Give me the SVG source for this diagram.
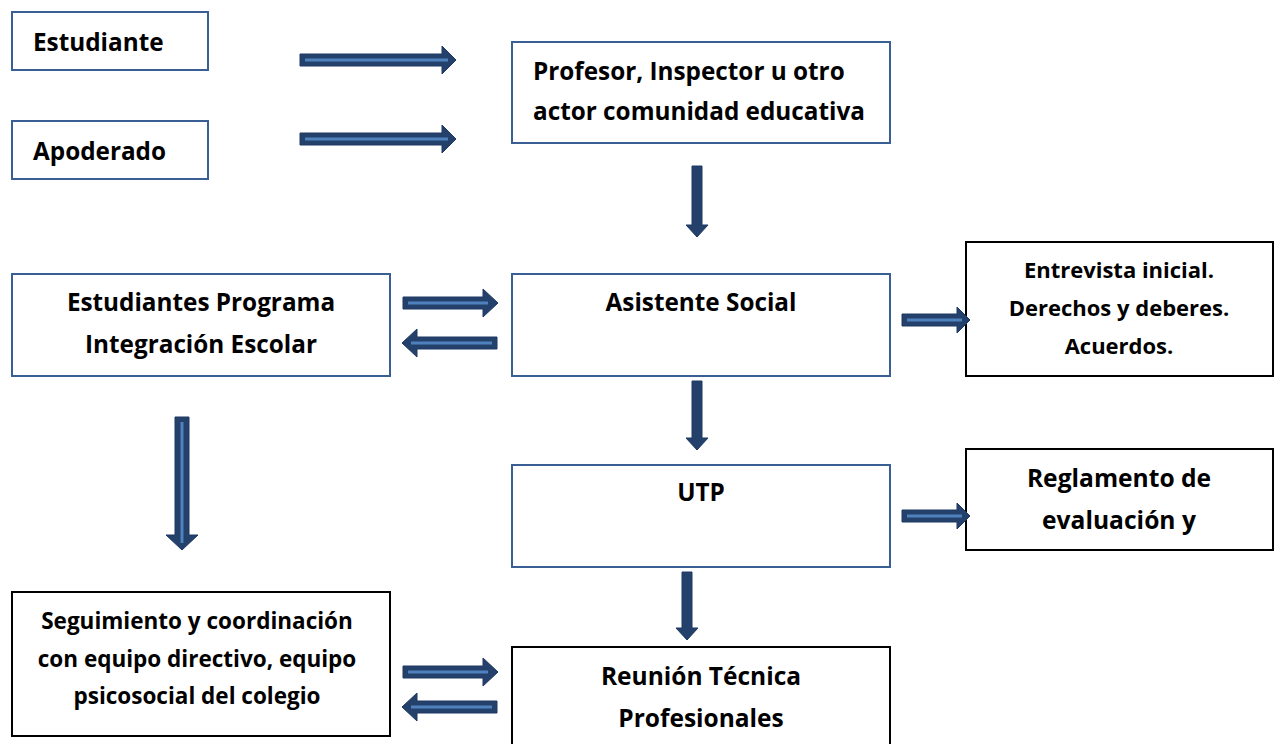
<svg xmlns="http://www.w3.org/2000/svg" width="1278" height="744" viewBox="0 0 1278 744">
<style>
.bb{fill:#fff;stroke:#3a5f95;stroke-width:2}
.kb{fill:#fff;stroke:#000;stroke-width:2}
text{font-family:"Open Sans","Liberation Sans",sans-serif;font-weight:700;fill:#000}
.c{text-anchor:middle}
.m{font-size:24.3px}
.ar{fill:#24416b;stroke:#1f3864;stroke-width:1}
.st{stroke:#4f81bd;stroke-width:3;fill:none}
</style>
<rect width="1278" height="744" fill="#fff"/>
<g id="n-estudiante"><rect class="bb" x="12" y="12" width="196" height="58"/><text class="m" x="33" y="51">Estudiante</text></g>
<g id="n-apoderado"><rect class="bb" x="12" y="121" width="196" height="58"/><text class="m" x="33" y="160">Apoderado</text></g>
<g id="n-profesor"><rect class="bb" x="512" y="42" width="378" height="101"/><text class="m" x="533" y="80">Profesor, Inspector u otro</text><text class="m" x="533" y="120">actor comunidad educativa</text></g>
<g id="n-pie"><rect class="bb" x="12" y="274" width="378" height="102"/><text class="c m" x="201" y="311">Estudiantes Programa</text><text class="c m" x="201" y="353">Integración Escolar</text></g>
<g id="n-asistente"><rect class="bb" x="512" y="274" width="378" height="102"/><text class="c m" x="701" y="311">Asistente Social</text></g>
<g id="n-entrevista"><rect class="kb" x="966" y="242" width="307" height="134"/><text class="c" x="1119" y="278" font-size="22">Entrevista inicial.</text><text class="c" x="1119" y="316" font-size="22">Derechos y deberes.</text><text class="c" x="1119" y="354" font-size="22">Acuerdos.</text></g>
<g id="n-utp"><rect class="bb" x="512" y="465" width="378" height="102"/><text class="c m" x="701" y="501">UTP</text></g>
<g id="n-reglamento"><rect class="kb" x="966" y="449" width="307" height="101"/><text class="c" x="1119" y="487" font-size="24.6">Reglamento de</text><text class="c" x="1119" y="529" font-size="24.6">evaluación y</text></g>
<g id="n-seguimiento"><rect class="kb" x="12" y="592" width="378" height="144"/><text class="c" x="197" y="629" font-size="22.5">Seguimiento y coordinación</text><text class="c" x="197" y="667" font-size="22.5">con equipo directivo, equipo</text><text class="c" x="197" y="704" font-size="22.5">psicosocial del colegio</text></g>
<g id="n-reunion"><rect class="kb" x="512" y="647" width="378" height="110"/><text class="c" x="701" y="685" font-size="24.5">Reunión Técnica</text><text class="c" x="701" y="727" font-size="24.5">Profesionales</text></g>
<g id="connectors">
<polygon class="ar" points="300,54 442,54 442,46 456,60 442,74 442,66 300,66"/><line class="st" x1="305" y1="60" x2="448" y2="60"/>
<polygon class="ar" points="300,133 442,133 442,125 456,139 442,153 442,145 300,145"/><line class="st" x1="305" y1="139" x2="448" y2="139"/>
<polygon class="ar" points="692,166 702,166 702,225 708,225 697,237 686,225 692,225"/>
<polygon class="ar" points="403,297 483,297 483,289 498,303 483,317 483,309 403,309"/><line class="st" x1="408" y1="303" x2="488" y2="303"/>
<polygon class="ar" points="497,337 417,337 417,329 402,343 417,357 417,349 497,349"/><line class="st" x1="411" y1="343" x2="492" y2="343"/>
<polygon class="ar" points="902,314 957,314 957,307 970,320 957,333 957,326 902,326"/><line class="st" x1="907" y1="320" x2="962" y2="320"/>
<polygon class="ar" points="692,381 702,381 702,438 708,438 697,450 686,438 692,438"/>
<polygon class="ar" points="175,417 189,417 189,535 198,535 182,550 166,535 175,535"/><line class="st" x1="182" y1="422" x2="182" y2="543"/>
<polygon class="ar" points="902,510 957,510 957,503 970,516 957,529 957,522 902,522"/><line class="st" x1="907" y1="516" x2="962" y2="516"/>
<polygon class="ar" points="682,572 692,572 692,628 698,628 687,640 676,628 682,628"/>
<polygon class="ar" points="403,666 483,666 483,658 498,672 483,686 483,678 403,678"/><line class="st" x1="408" y1="672" x2="488" y2="672"/>
<polygon class="ar" points="497,701 417,701 417,693 402,707 417,721 417,713 497,713"/><line class="st" x1="411" y1="707" x2="492" y2="707"/>
</g>
</svg>
